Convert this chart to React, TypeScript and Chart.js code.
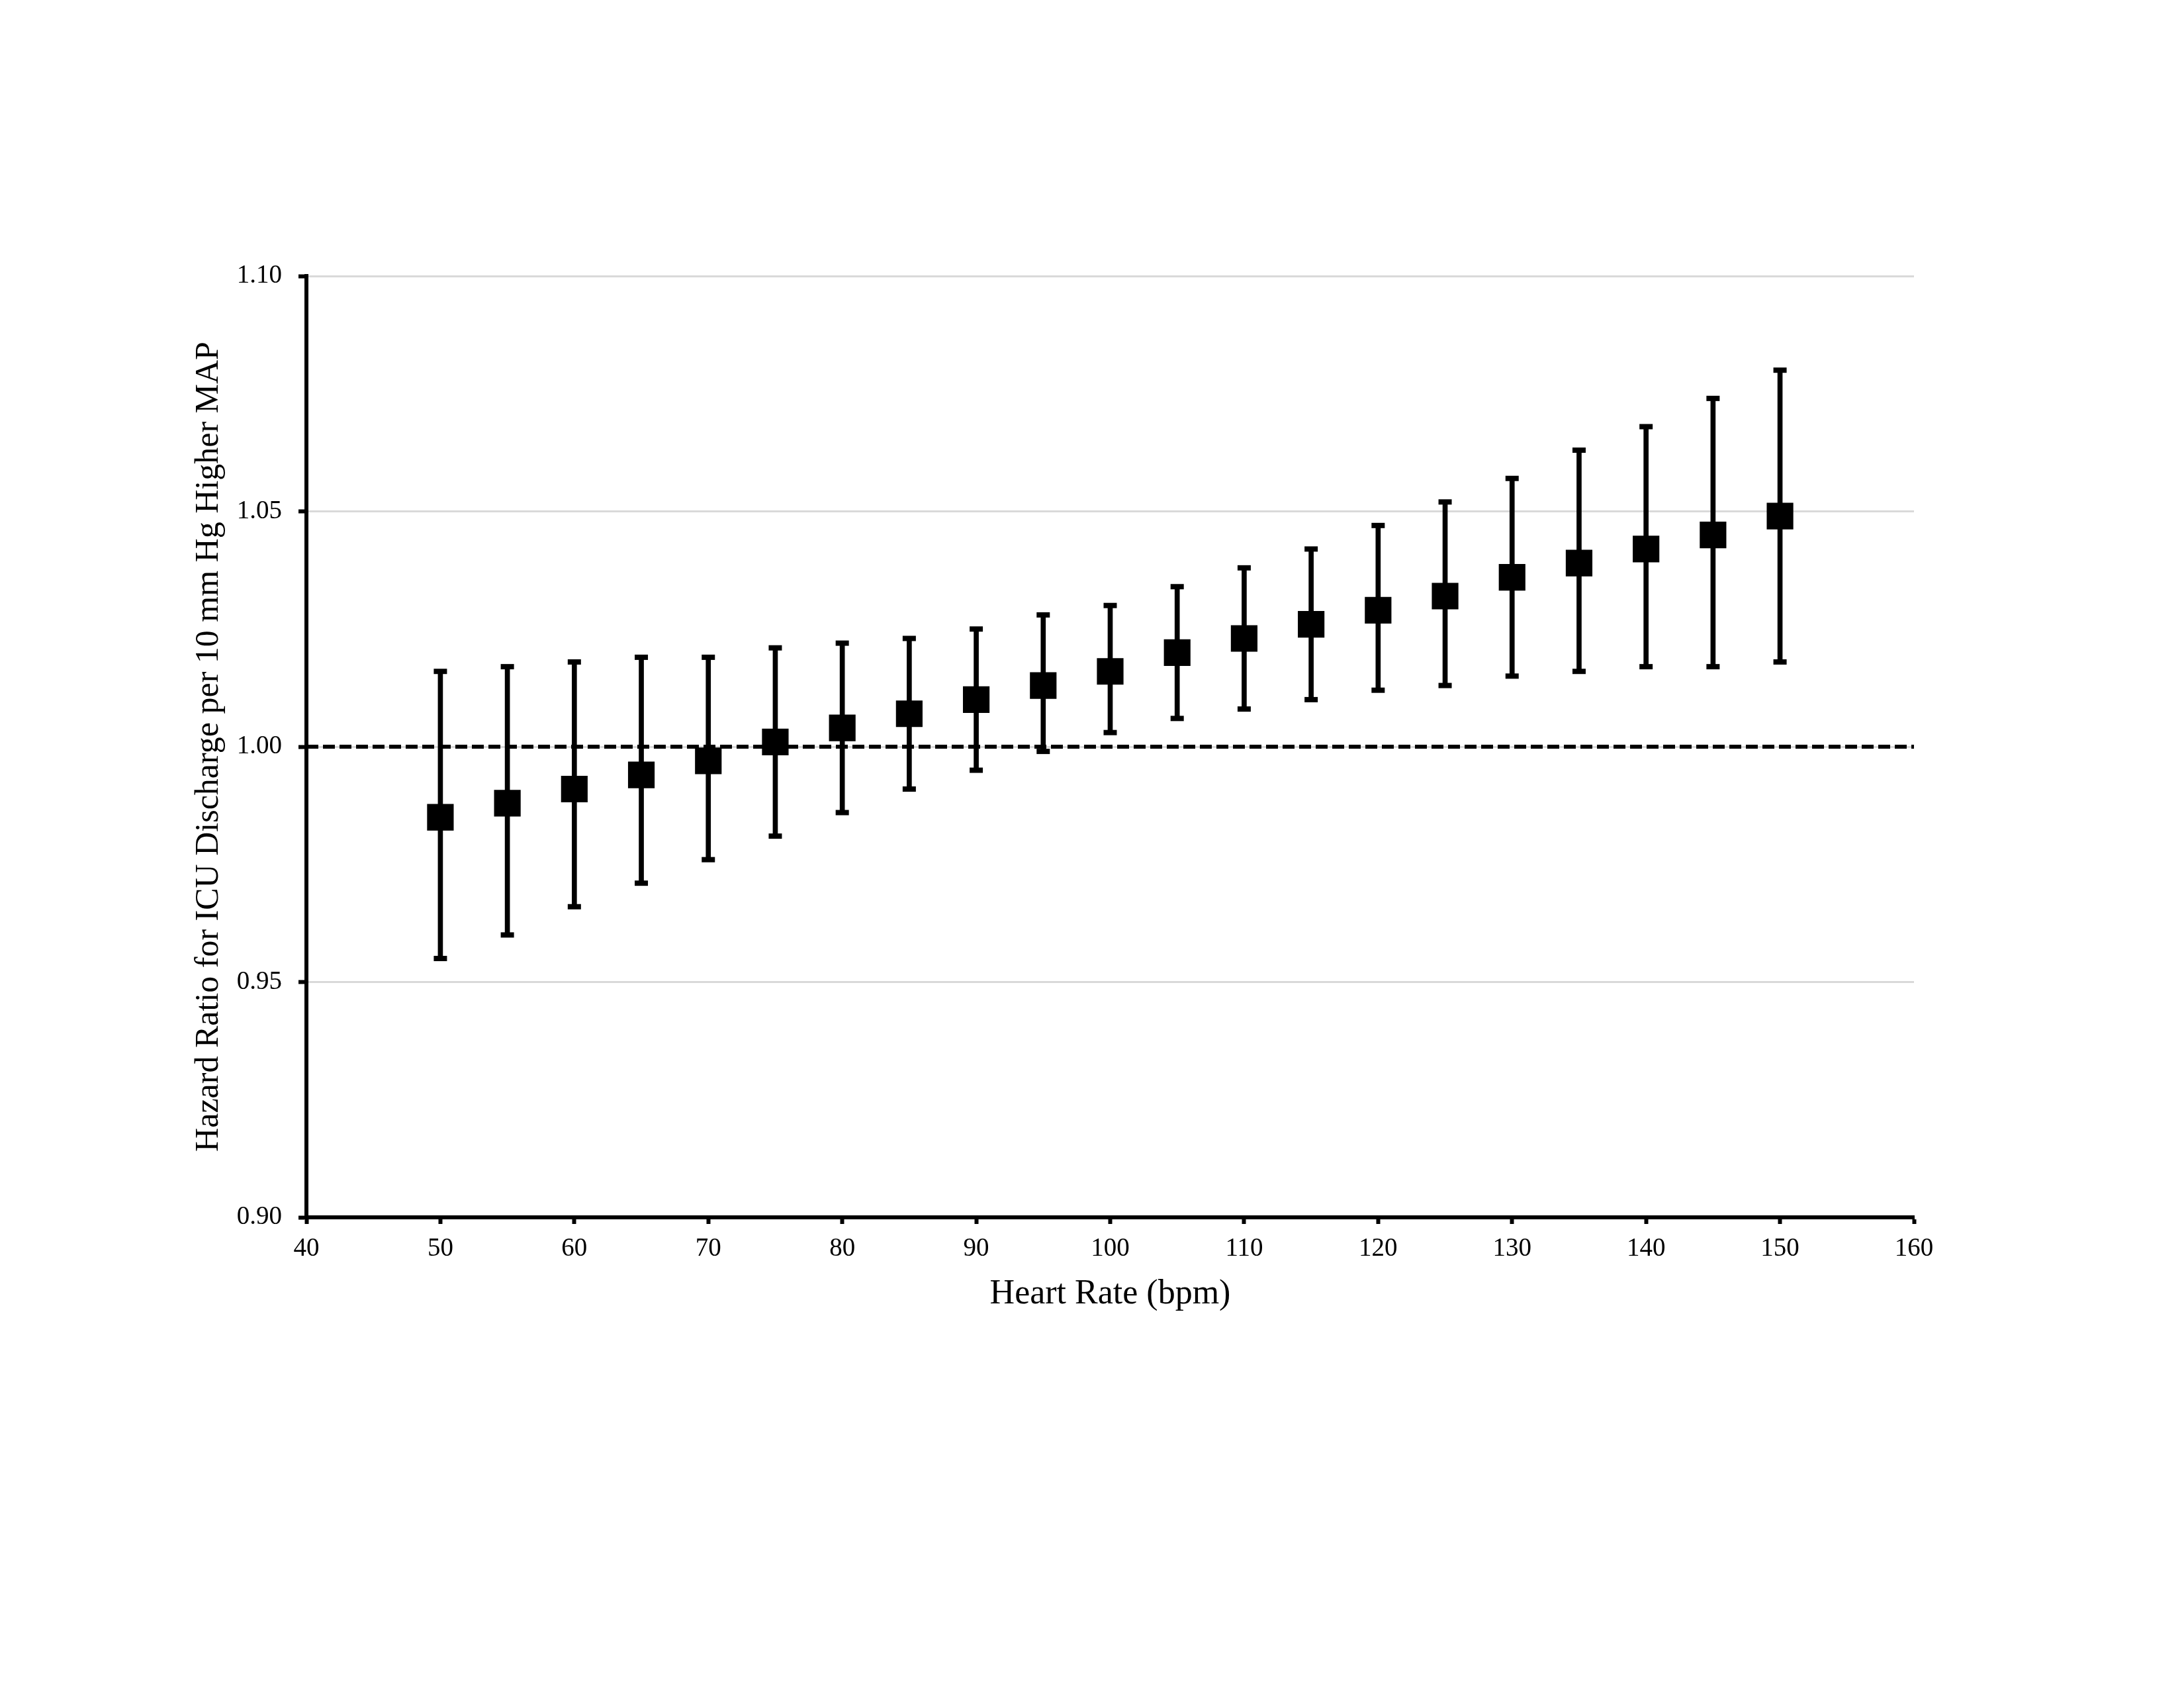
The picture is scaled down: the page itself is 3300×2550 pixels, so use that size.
import React, { useRef, useEffect } from "react";
import Chart from "chart.js/auto";

// heart rate (bpm) and hazard ratio with 95% CI
const heartRate = [50, 55, 60, 65, 70, 75, 80, 85, 90, 95, 100, 105, 110, 115, 120, 125, 130, 135, 140, 145, 150];
const hazardRatio = [0.985, 0.988, 0.991, 0.994, 0.997, 1.001, 1.004, 1.007, 1.01, 1.013, 1.016, 1.02, 1.023, 1.026, 1.029, 1.032, 1.036, 1.039, 1.042, 1.045, 1.049];
const ciLower = [0.955, 0.96, 0.966, 0.971, 0.976, 0.981, 0.986, 0.991, 0.995, 0.999, 1.003, 1.006, 1.008, 1.01, 1.012, 1.013, 1.015, 1.016, 1.017, 1.017, 1.018];
const ciUpper = [1.016, 1.017, 1.018, 1.019, 1.019, 1.021, 1.022, 1.023, 1.025, 1.028, 1.03, 1.034, 1.038, 1.042, 1.047, 1.052, 1.057, 1.063, 1.068, 1.074, 1.08];

const xTicks = [40, 50, 60, 70, 80, 90, 100, 110, 120, 130, 140, 150, 160];
const yTicks = [0.9, 0.95, 1.0, 1.05, 1.1];
const referenceLine = 1.0;

const xTitle = "Heart Rate (bpm)";
const yTitle = "Hazard Ratio for ICU Discharge per 10 mm Hg Higher MAP";

const FONT = "'Liberation Serif', 'Times New Roman', serif";

const HazardChart: React.FC = () => {
  const canvasRef = useRef<HTMLCanvasElement>(null);
  const chartInstance = useRef<Chart | null>(null);

  useEffect(() => {
    if (!canvasRef.current) return;
    const ctx = canvasRef.current.getContext("2d");
    if (!ctx) return;

    if (chartInstance.current) {
      chartInstance.current.destroy();
    }

    const xMin = xTicks[0];
    const xMax = xTicks[xTicks.length - 1];

    chartInstance.current = new Chart(ctx, {
      type: "scatter",
      data: {
        datasets: [
          {
            type: "scatter",
            label: "HR",
            data: heartRate.map((x, i) => ({ x, y: hazardRatio[i] })),
            pointStyle: "rect",
            pointRadius: 27,
            backgroundColor: "#000",
            borderColor: "#000",
            borderWidth: 2,
            order: 0,
          },
          {
            type: "scatter",
            label: "caps",
            data: [
              ...heartRate.map((x, i) => ({ x, y: ciLower[i] })),
              ...heartRate.map((x, i) => ({ x, y: ciUpper[i] })),
            ],
            pointStyle: "line",
            pointRadius: 10,
            borderColor: "#000",
            borderWidth: 8,
            order: 1,
          },
          {
            type: "bar",
            label: "95% CI",
            data: heartRate.map((x, i) => ({ x, y: [ciLower[i], ciUpper[i]] })) as any,
            backgroundColor: "#000",
            barThickness: 7,
            order: 2,
          },
          {
            type: "line",
            label: "ref",
            data: [
              { x: xMin, y: referenceLine },
              { x: xMax, y: referenceLine },
            ],
            borderColor: "#000",
            borderWidth: 6,
            borderDash: [18, 7],
            pointRadius: 0,
            order: 3,
          },
        ],
      },
      options: {
        animation: false,
        responsive: true,
        maintainAspectRatio: false,
        devicePixelRatio: 1,
        layout: {
          padding: { left: 0, right: 408, top: 417, bottom: 511 },
        },
        plugins: {
          legend: { display: false },
          tooltip: { enabled: false },
        },
        scales: {
          x: {
            type: "linear",
            min: xMin,
            max: xMax,
            offset: false,
            afterBuildTicks: (scale: any) => {
              scale.ticks = xTicks.map((v) => ({ value: v }));
            },
            afterFit: (scale: any) => {
              scale.height = 200;
            },
            ticks: {
              autoSkip: false,
              maxRotation: 0,
              padding: 14,
              color: "#000",
              font: { family: FONT, size: 39 },
            },
            grid: {
              offset: false,
              drawOnChartArea: false,
              tickColor: "#000",
              tickLength: 10,
              tickWidth: 6,
            },
            border: { color: "#000", width: 6 },
            title: {
              display: true,
              text: xTitle,
              color: "#000",
              font: { family: FONT, size: 52 },
              padding: { top: 0, bottom: 52 },
            },
          },
          y: {
            type: "linear",
            min: yTicks[0],
            max: yTicks[yTicks.length - 1],
            beginAtZero: false,
            afterBuildTicks: (scale: any) => {
              scale.ticks = yTicks.map((v) => ({ value: v }));
            },
            afterFit: (scale: any) => {
              scale.width = 463;
            },
            ticks: {
              padding: 25,
              color: "#000",
              font: { family: FONT, size: 39 },
              callback: (v: any) => Number(v).toFixed(2),
            },
            grid: {
              color: "#d9d9d9",
              lineWidth: 3,
              tickColor: "#000",
              tickLength: 12,
              tickWidth: 6,
            },
            border: { color: "#000", width: 6 },
            title: {
              display: true,
              text: yTitle,
              color: "#000",
              font: { family: FONT, size: 50 },
              padding: { top: 286, bottom: 0 },
            },
          },
        },
      },
    });

    return () => {
      if (chartInstance.current) {
        chartInstance.current.destroy();
        chartInstance.current = null;
      }
    };
  }, []);

  return <canvas ref={canvasRef}></canvas>;
};

export default function App() {
  return (
    <div
      style={{
        position: "absolute",
        left: 0,
        top: 0,
        width: 3300,
        height: 2550,
        background: "#fff",
      }}
    >
      <HazardChart />
    </div>
  );
}
